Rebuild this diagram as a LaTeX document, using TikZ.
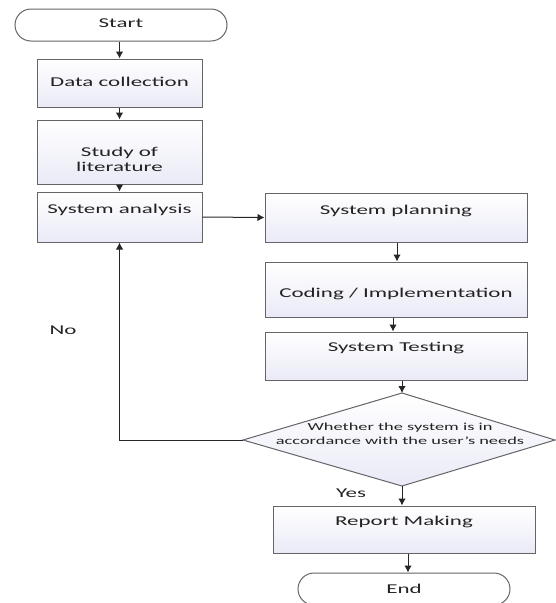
\documentclass[tikz,border=0pt]{standalone}
\usepackage{fontspec}
\setmainfont{Carlito}[FakeStretch=1.7]
\usetikzlibrary{arrows.meta}
\definecolor{boxline}{RGB}{100,100,105}
\definecolor{boxfill}{RGB}{234,234,247}
\definecolor{txtc}{RGB}{35,35,35}
\tikzset{
  box/.style={draw=boxline, line width=1pt, top color=white, bottom color=boxfill, inner sep=0pt},
  term/.style={draw=boxline, line width=1pt, fill=white, rounded corners=16pt, inner sep=0pt},
  txt/.style={text=txtc, font=\fontsize{13.5}{15}\selectfont, align=center, inner sep=0pt},
  smalltxt/.style={text=txtc, font=\fontsize{10.8}{14}\selectfont, align=center, inner sep=0pt},
  arr/.style={draw=black!85, line width=1pt, -{Latex[length=7pt,width=7.5pt]}}
}
\begin{document}
\begin{tikzpicture}[x=1pt,y=-1pt]
\useasboundingbox (0,0) rectangle (556,603);
\begin{scope}
\clip (0,0) rectangle (556,603);
% terminals
\node[term, minimum width=212pt, minimum height=32pt] (start) at (121,25) {};
\node[txt] (starttxt) at (121,23) {Start};
\node[term, minimum width=212pt, minimum height=32pt] (end) at (404,589) {};
\node[txt] (endtxt) at (404,589) {End};
% left column
\node[box, minimum width=165pt, minimum height=48pt] (dc) at (119.5,83) {};
\node[txt] (dctxt) at (119.5,82) {Data collection};
\node[box, minimum width=165pt, minimum height=64pt] (sl) at (119.5,152) {};
\node[txt] (sltxt) at (119.5,159) {Study of\\literature};
\node[box, minimum width=165pt, minimum height=50pt] (sa) at (119.5,217) {};
\node[txt] (satxt) at (119.5,210) {System analysis};
% right column
\node[box, minimum width=262pt, minimum height=49pt] (sp) at (396,217.5) {};
\node[txt] (sptxt) at (396,211) {System planning};
\node[box, minimum width=262pt, minimum height=55pt] (ci) at (396,289.5) {};
\node[txt] (citxt) at (396,294) {Coding / Implementation};
\node[box, minimum width=262pt, minimum height=48pt] (st) at (396,356) {};
\node[txt] (sttxt) at (396,348) {System Testing};
% decision
\coordinate (dtop) at (402,393);
\coordinate (dleft) at (243,440);
\coordinate (dright) at (555,440);
\coordinate (dbot) at (402,486);
\path[draw=boxline, line width=1pt, top color=white, bottom color=boxfill] (dtop) -- (dright) -- (dbot) -- (dleft) -- cycle;
\node[smalltxt] (dtxt) at (400,434) {Whether the system is in\\accordance with the user's needs};
\node[box, minimum width=262pt, minimum height=47pt] (rm) at (404,529.5) {};
\node[txt] (rmtxt) at (404,522) {Report Making};
% labels
\node[txt] (no) at (63,330) {No};
\node[txt] (yes) at (351,493) {Yes};
% connectors
\draw[arr] (start.south -| dc.north) -- (dc.north);
\draw[arr] (dc.south) -- (sl.north);
\draw[arr] (sl.south) -- (sa.north);
\draw[arr] (sa.east) -- (sp.west);
\draw[arr] ([xshift=1pt]sp.south) -- ([xshift=1pt]ci.north);
\draw[arr] ([xshift=-3pt]ci.south) -- ([xshift=-3pt]st.north);
\draw[arr] (st.south -| dtop) -- (dtop);
\draw[arr] (dbot) -- (dbot |- rm.north);
\draw[arr] ([xshift=4pt]rm.south) -- ([xshift=4pt]end.north);
\draw[arr] (dleft) -- (dleft -| sa.south) -- (sa.south);
\end{scope}
\end{tikzpicture}
\end{document}
